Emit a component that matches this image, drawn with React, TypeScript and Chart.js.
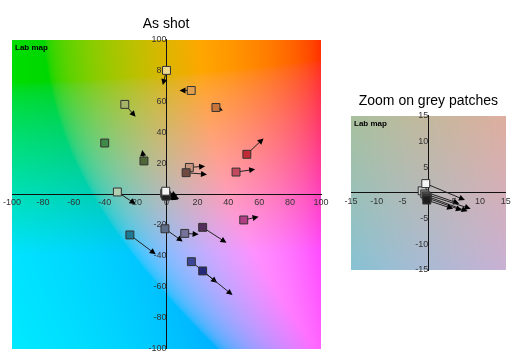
import React, { useEffect, useRef } from 'react';
import { Chart, registerables } from 'chart.js';

Chart.register(...registerables);

// Colour patches (a*, b*) as shot, and where they should be (arrow tips)
const patchA = [0, 16, -27, 32, -40, -14.6, 52, 45, 14.8, 12.7, -31.8, 50, -1, 11.8, 23.4, -23.7, 16.1, 23.4];
const patchB = [80, 67, 58, 56, 33, 21.4, 25.7, 14.2, 17.2, 13.8, 1.3, -16.8, -22.5, -25.5, -21.6, -26.5, -43.8, -49.8];
const targetA = [-2.4, 8.4, -20, 36.5, -40, -15.7, 62.8, 57.4, 25, 26.2, -20, 59.6, 10.5, 20.8, 38.8, -7, 32.7, 42.7];
const targetB = [70.5, 67, 50, 54, 33, 28.5, 36, 16, 18, 12.7, -6.5, -14.7, -30.7, -26.1, -31.5, -39, -57.4, -65.4];
const patchColors = [
  '#ecd98e', '#e0a050', '#a6b46a', '#c8743a', '#3f8a47', '#4f6636', '#c02a35', '#c24a5c', '#c7957f',
  '#6e4a40', '#b0ceb0', '#b23e86', '#5e6e88', '#75719a', '#532e5a', '#1e7a90', '#3b4796', '#25287a',
];

// Grey patches
const greyA = [-1.2, -0.7, -0.4, -0.2, -0.3, -0.5];
const greyB = [0.4, -0.2, -0.6, -1.0, -1.4, 1.8];
const greyTargetA = [6.0, 8.2, 7.6, 6.5, 4.8, 7.1];
const greyTargetB = [-2.1, -3.1, -3.6, -3.4, -3.1, -1.4];
const greyColors = ['#c8c8c8', '#8c8c8c', '#5a5a5a', '#3a3a3a', '#1e1e1e', '#f4f4f4'];

const mainTicks = [-100, -80, -60, -40, -20, 0, 20, 40, 60, 80, 100];
const zoomTicks = [-15, -10, -5, 0, 5, 10, 15];

const LAB_L = 75;

function lab2rgb(L: number, a: number, b: number): [number, number, number] {
  const fy = (L + 16) / 116;
  const fx = fy + a / 500;
  const fz = fy - b / 200;
  const d = 6 / 29;
  const finv = (t: number) => (t > d ? t * t * t : 3 * d * d * (t - 4 / 29));
  const X = 0.95047 * finv(fx);
  const Y = finv(fy);
  const Z = 1.08883 * finv(fz);
  const lin = [
    3.2406 * X - 1.5372 * Y - 0.4986 * Z,
    -0.9689 * X + 1.8758 * Y + 0.0415 * Z,
    0.0557 * X - 0.204 * Y + 1.057 * Z,
  ];
  return lin.map((c) => {
    const v = Math.min(1, Math.max(0, c));
    const s = v <= 0.0031308 ? 12.92 * v : 1.055 * Math.pow(v, 1 / 2.4) - 0.055;
    return Math.round(s * 255);
  }) as [number, number, number];
}

const labBackground = {
  id: 'labBackground',
  beforeDraw(chart: any) {
    const { ctx, chartArea, scales } = chart;
    const x0 = Math.round(chartArea.left);
    const y0 = Math.round(chartArea.top);
    const w = Math.round(chartArea.right) - x0;
    const h = Math.round(chartArea.bottom) - y0;
    const img = ctx.createImageData(w, h);
    for (let j = 0; j < h; j++) {
      const bv = scales.y.getValueForPixel(y0 + j + 0.5);
      for (let i = 0; i < w; i++) {
        const av = scales.x.getValueForPixel(x0 + i + 0.5);
        const [r, g, b] = lab2rgb(LAB_L, av, bv);
        const k = (j * w + i) * 4;
        img.data[k] = r;
        img.data[k + 1] = g;
        img.data[k + 2] = b;
        img.data[k + 3] = 255;
      }
    }
    ctx.putImageData(img, x0, y0);
  },
};

const labLabel = {
  id: 'labLabel',
  beforeDatasetsDraw(chart: any) {
    const { ctx, chartArea } = chart;
    ctx.save();
    ctx.font = 'bold 8px Arial, "Liberation Sans", sans-serif';
    ctx.fillStyle = '#000';
    ctx.textBaseline = 'top';
    ctx.textAlign = 'left';
    ctx.fillText('Lab map', chartArea.left + 3, chartArea.top + 4);
    ctx.restore();
  },
};

const arrows = {
  id: 'arrows',
  beforeDatasetsDraw(chart: any, _args: any, opts: any) {
    const { ctx, chartArea, scales } = chart;
    const { sa, sb, ea, eb } = opts;
    ctx.save();
    ctx.beginPath();
    ctx.rect(chartArea.left, chartArea.top, chartArea.right - chartArea.left, chartArea.bottom - chartArea.top);
    ctx.clip();
    for (let i = 0; i < sa.length; i++) {
      const x1 = scales.x.getPixelForValue(sa[i]);
      const y1 = scales.y.getPixelForValue(sb[i]);
      const x2 = scales.x.getPixelForValue(ea[i]);
      const y2 = scales.y.getPixelForValue(eb[i]);
      const dx = x2 - x1;
      const dy = y2 - y1;
      const len = Math.hypot(dx, dy);
      if (len < 1) continue;
      const ux = dx / len;
      const uy = dy / len;
      ctx.strokeStyle = '#222';
      ctx.lineWidth = 1;
      ctx.beginPath();
      ctx.moveTo(x1, y1);
      ctx.lineTo(x2 - ux * 4, y2 - uy * 4);
      ctx.stroke();
      const hl = 6;
      const hw = 3;
      ctx.fillStyle = '#000';
      ctx.beginPath();
      ctx.moveTo(x2, y2);
      ctx.lineTo(x2 - ux * hl - uy * hw, y2 - uy * hl + ux * hw);
      ctx.lineTo(x2 - ux * hl + uy * hw, y2 - uy * hl - ux * hw);
      ctx.closePath();
      ctx.fill();
    }
    ctx.restore();
  },
};

type LabProps = {
  width: number;
  height: number;
  title: string;
  range: number;
  ticks: number[];
  sa: number[];
  sb: number[];
  ea: number[];
  eb: number[];
  colors: string[];
  padding: { left: number; right: number; top: number; bottom: number };
  titlePadding: { top: number; bottom: number };
};

function LabChart(p: LabProps) {
  const ref = useRef<HTMLCanvasElement | null>(null);
  useEffect(() => {
    if (!ref.current) return;
    const tickFont = { size: 9, family: 'Arial, "Liberation Sans", sans-serif' };
    const axis = (other: 'x' | 'y') => ({
      type: 'linear' as const,
      min: -p.range,
      max: p.range,
      position: { [other]: 0 } as any,
      afterBuildTicks: (s: any) => {
        s.ticks = p.ticks.map((v) => ({ value: v }));
      },
      ticks: {
        font: tickFont,
        color: '#333',
        padding: 3,
        maxRotation: 0,
        autoSkip: false,
        callback: (v: any) => String(v),
      },
      grid: { display: true, drawOnChartArea: false, drawTicks: false, color: 'rgba(0,0,0,0)' },
      border: { display: true, color: '#111', width: 1 },
    });
    const chart = new Chart(ref.current, {
      type: 'scatter',
      data: {
        datasets: [
          {
            data: p.sa.map((a, i) => ({ x: a, y: p.sb[i] })),
            pointStyle: 'rect',
            pointRadius: 5.6,
            pointHoverRadius: 5.6,
            backgroundColor: p.colors,
            borderColor: '#333',
            borderWidth: 1,
          },
        ],
      },
      options: {
        animation: false,
        responsive: false,
        events: [],
        layout: { padding: p.padding },
        scales: { x: axis('y'), y: axis('x') },
        plugins: {
          legend: { display: false },
          tooltip: { enabled: false },
          title: {
            display: true,
            text: p.title,
            color: '#000',
            font: { size: 14, weight: 'normal', family: 'Arial, "Liberation Sans", sans-serif' },
            padding: p.titlePadding,
          },
          arrows: { sa: p.sa, sb: p.sb, ea: p.ea, eb: p.eb },
        } as any,
      },
      plugins: [labBackground, labLabel, arrows],
    });
    return () => chart.destroy();
  }, []);
  return <canvas ref={ref} width={p.width} height={p.height} style={{ display: 'block' }} />;
}

export default function App() {
  const allA = [...patchA, ...greyA];
  const allB = [...patchB, ...greyB];
  const allEA = [...targetA, ...greyTargetA];
  const allEB = [...targetB, ...greyTargetB];
  const allC = [...patchColors, ...greyColors];
  return (
    <div style={{ position: 'absolute', left: 0, top: 0, width: 530, height: 359, background: '#fff' }}>
      <div style={{ position: 'absolute', left: 0, top: 0 }}>
        <LabChart
          width={335}
          height={359}
          title="As shot"
          range={100}
          ticks={mainTicks}
          sa={allA}
          sb={allB}
          ea={allEA}
          eb={allEB}
          colors={allC}
          padding={{ left: 11, right: 14, top: 0, bottom: 10.5 }}
          titlePadding={{ top: 16, bottom: 6.7 }}
        />
      </div>
      <div style={{ position: 'absolute', left: 340, top: 80 }}>
        <LabChart
          width={190}
          height={200}
          title="Zoom on grey patches"
          range={15}
          ticks={zoomTicks}
          sa={greyA}
          sb={greyB}
          ea={greyTargetA}
          eb={greyTargetB}
          colors={greyColors}
          padding={{ left: 11, right: 24.3, top: 0, bottom: 10 }}
          titlePadding={{ top: 12.3, bottom: 6.6 }}
        />
      </div>
    </div>
  );
}
